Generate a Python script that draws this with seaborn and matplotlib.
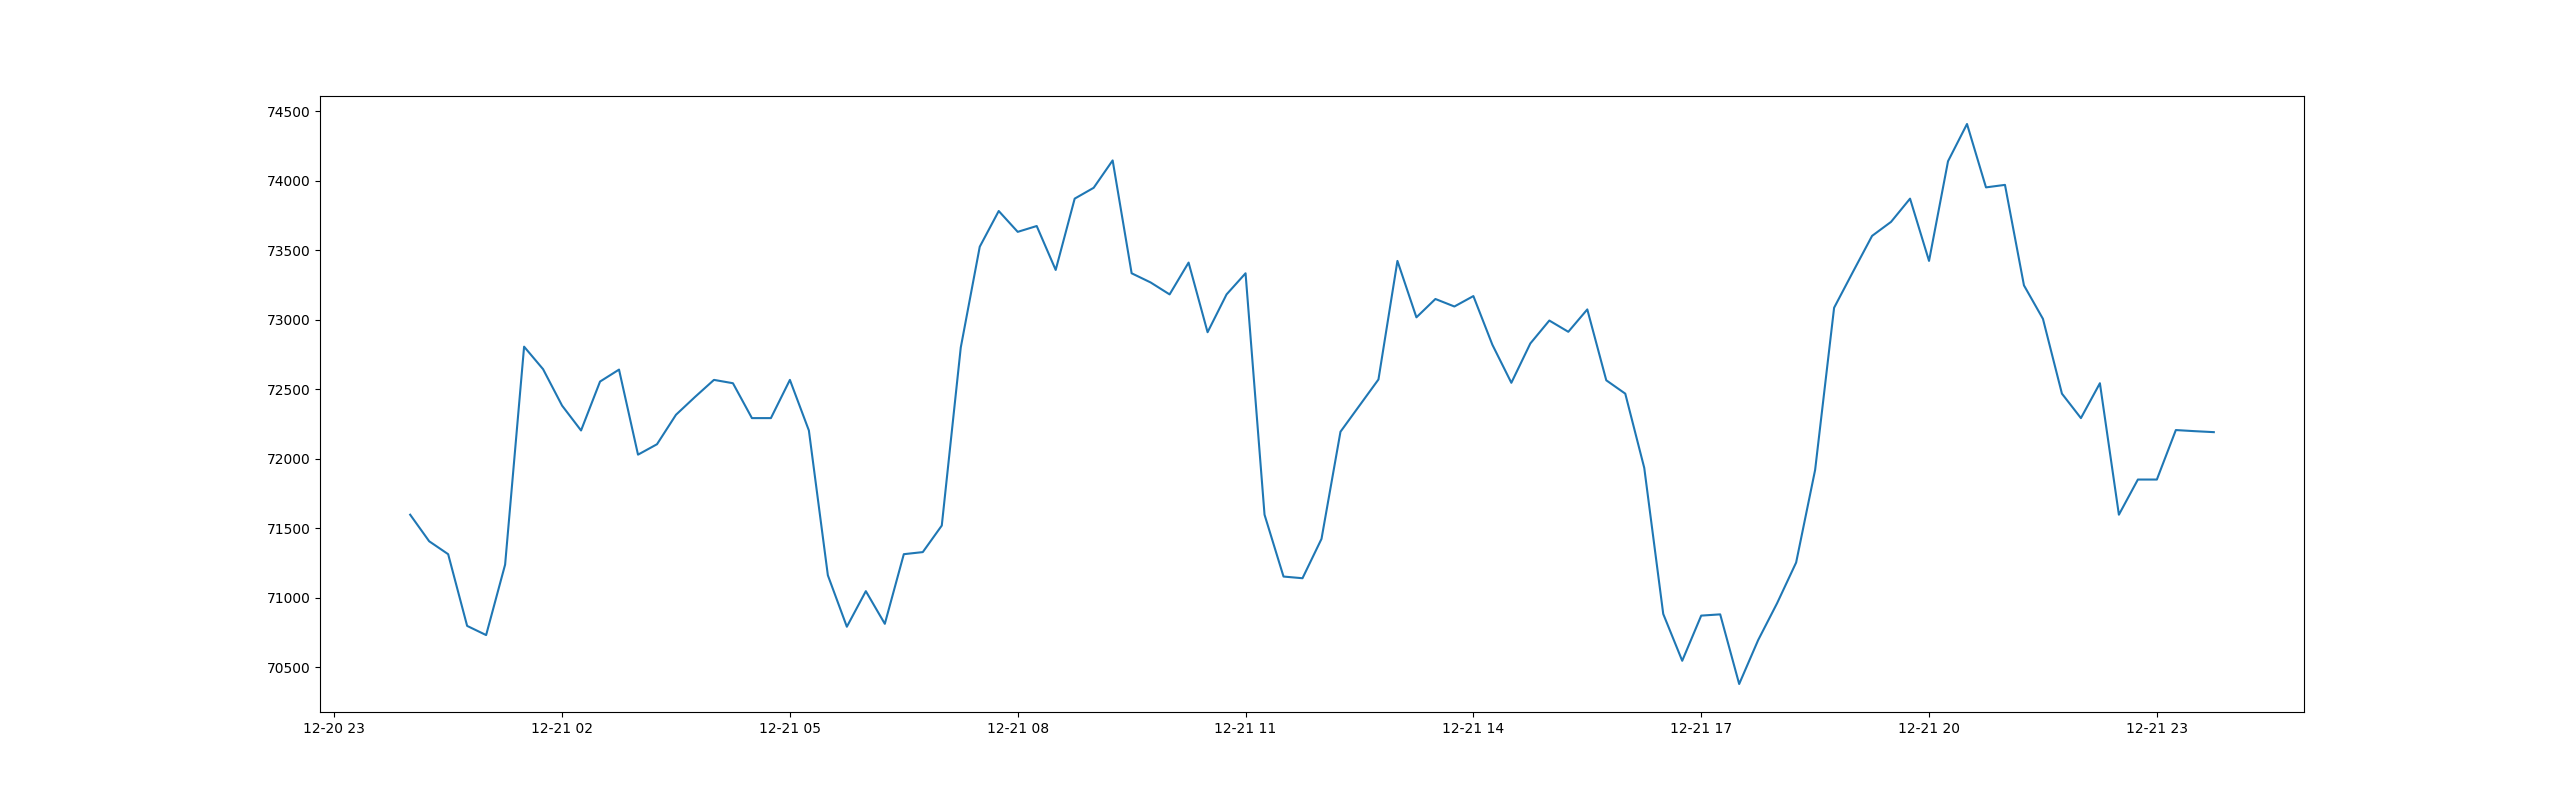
import matplotlib
matplotlib.use("Agg")
import matplotlib.pyplot as plt
import matplotlib.dates as mdates
import seaborn as sns
import pandas as pd

start_time = "2024-12-21 00:00"
step = "15min"
prices = [
    71596, 71405, 71312, 70796, 70730, 71237, 72805, 72643, 72381, 72202,
    72554, 72640, 72028, 72103, 72315, 72443, 72566, 72542, 72291, 72291,
    72566, 72202, 71160, 70790, 71046, 70811, 71312, 71327, 71518, 72799,
    73524, 73781, 73631, 73673, 73357, 73870, 73948, 74145, 73333, 73267,
    73181, 73410, 72909, 73181, 73333, 71596, 71151, 71139, 71422, 72193,
    72381, 72569, 73422, 73016, 73148, 73094, 73169, 72819, 72545, 72828,
    72993, 72912, 73073, 72563, 72467, 71933, 70882, 70545, 70870, 70879,
    70378, 70694, 70960, 71252, 71918, 73085, 73345, 73602, 73703, 73870,
    73422, 74139, 74407, 73951, 73969, 73246, 73005, 72467, 72291, 72542,
    71596, 71849, 71849, 72205, 72197, 72190,
]
tick_hours = [2, 5, 8, 11, 14, 17, 20, 23]
tick_format = "%m-%d %H"

times = pd.date_range(start_time, periods=len(prices), freq=step)
df = pd.DataFrame({"time": times, "price": prices})

fig, ax = plt.subplots(figsize=(25.6, 8), dpi=100)
sns.lineplot(data=df, x="time", y="price", ax=ax, color="#1f77b4", linewidth=1.5)
ax.set_xlabel("")
ax.set_ylabel("")
ax.xaxis.set_major_locator(mdates.HourLocator(byhour=tick_hours))
ax.xaxis.set_major_formatter(mdates.DateFormatter(tick_format))
fig.savefig("out.png", dpi=100)
